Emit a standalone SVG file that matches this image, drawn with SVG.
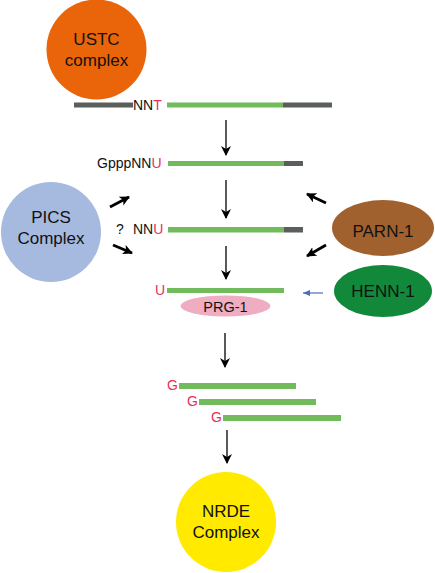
<svg xmlns="http://www.w3.org/2000/svg" width="435" height="573" viewBox="0 0 435 573">
<defs>
<marker id="ah" markerWidth="10" markerHeight="10" refX="9" refY="5" orient="auto" markerUnits="userSpaceOnUse">
<path d="M0,0 L10,5 L0,10 L3,5 Z" fill="#000"/>
</marker>
<marker id="ahb" markerWidth="10" markerHeight="10" refX="9" refY="5" orient="auto" markerUnits="userSpaceOnUse">
<path d="M0,0 L10,5 L0,10 L2.5,5 Z" fill="#000"/>
</marker>
<marker id="ahblue" markerWidth="7" markerHeight="6" refX="7" refY="3" orient="auto" markerUnits="userSpaceOnUse">
<path d="M0,0 L7,3 L0,6 Z" fill="#4A6FB5"/>
</marker>
<style>
text{font-family:"Liberation Sans",Arial,sans-serif;}
.lbl{font-size:17px;fill:#111;text-anchor:middle;}
.seq{font-size:14px;fill:#111;}
.red{fill:#E8305A;}
.g{fill:#72BB5C;}
.d{fill:#5A5F5C;}
.v{stroke:#000;stroke-width:1.3;fill:none;marker-end:url(#ah);}
.t{stroke:#000;stroke-width:2.8;fill:none;marker-end:url(#ahb);}
</style>
</defs>
<rect width="435" height="573" fill="#fff"/>

<g id="ustc">
<circle cx="96.5" cy="49.5" r="50" fill="#EA650A"/>
<text class="lbl" x="96.5" y="45">USTC</text>
<text class="lbl" x="96.5" y="66">complex</text>
</g>

<g id="strand1">
<rect class="d" x="74" y="102.5" width="59" height="5"/>
<text class="seq" x="133" y="110">NN<tspan class="red">T</tspan></text>
<rect class="g" x="167" y="102.5" width="116" height="5"/>
<rect class="d" x="283" y="102.5" width="49" height="5"/>
</g>

<g id="strand2">
<text class="seq" x="97" y="168">GpppNN<tspan class="red">U</tspan></text>
<rect class="g" x="168" y="161" width="116" height="5"/>
<rect class="d" x="284" y="161" width="19" height="5"/>
</g>

<g id="pics">
<circle cx="51" cy="232" r="50" fill="#A6B9DF"/>
<text class="lbl" x="51" y="223">PICS</text>
<text class="lbl" x="51" y="244">Complex</text>
</g>

<g id="strand3">
<text class="seq" x="116" y="234">?</text>
<text class="seq" x="133" y="234">NN<tspan class="red">U</tspan></text>
<rect class="g" x="168" y="227" width="116" height="5.5"/>
<rect class="d" x="284" y="227" width="19" height="5.5"/>
</g>

<g id="parn1">
<ellipse cx="383" cy="228" rx="51" ry="28" fill="#A1612E"/>
<text class="lbl" x="383" y="237">PARN-1</text>
</g>

<g id="henn1">
<ellipse cx="383" cy="291" rx="49" ry="26" fill="#12893A"/>
<text class="lbl" x="383" y="297">HENN-1</text>
</g>

<g id="strand4">
<text class="seq red" x="155" y="295">U</text>
<rect class="g" x="167" y="288" width="117" height="5"/>
</g>

<g id="prg1">
<ellipse cx="225.5" cy="306" rx="45" ry="10.5" fill="#EFADC2"/>
<text x="225.5" y="312" font-size="14.5" fill="#111" text-anchor="middle">PRG-1</text>
</g>

<g id="strand5">
<text class="seq red" x="167" y="390">G</text>
<rect class="g" x="179" y="383" width="117" height="6"/>
<text class="seq red" x="187" y="406">G</text>
<rect class="g" x="199" y="399" width="117" height="6"/>
<text class="seq red" x="211" y="422">G</text>
<rect class="g" x="223" y="415" width="118" height="6"/>
</g>

<g id="nrde">
<circle cx="226" cy="522" r="50" fill="#FFEA00"/>
<text class="lbl" x="226" y="517">NRDE</text>
<text class="lbl" x="226" y="538">Complex</text>
</g>

<g id="connectors">
<line class="v" x1="226" y1="120" x2="226" y2="155"/>
<line class="v" x1="226" y1="180" x2="226" y2="218"/>
<line class="v" x1="226" y1="246" x2="226" y2="279"/>
<line class="v" x1="225" y1="333" x2="225" y2="367"/>
<line class="v" x1="227" y1="430" x2="227" y2="463"/>
<line class="t" x1="110" y1="207" x2="129" y2="197"/>
<line class="t" x1="113" y1="245" x2="132" y2="253"/>
<line class="t" x1="326" y1="203" x2="307" y2="194"/>
<line class="t" x1="326" y1="245" x2="307" y2="256"/>
<line x1="323" y1="293" x2="303" y2="293" stroke="#4A6FB5" stroke-width="1.2" marker-end="url(#ahblue)"/>
</g>
</svg>
